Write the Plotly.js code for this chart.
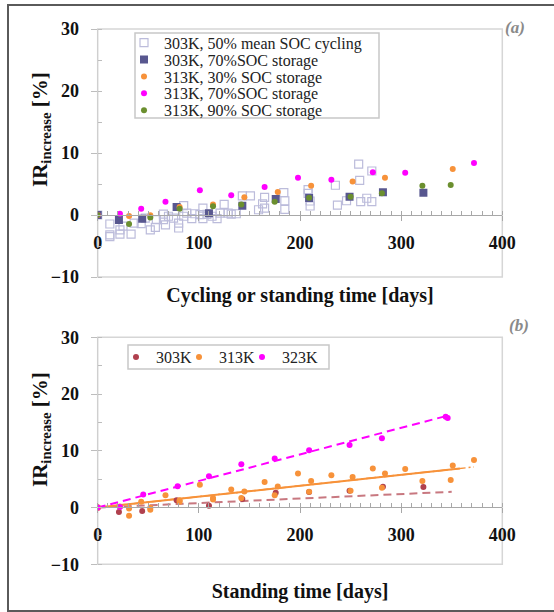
<!DOCTYPE html>
<html><head><meta charset="utf-8">
<script src="https://cdn.plot.ly/plotly-3.0.1.min.js"></script>
<style>html,body{margin:0;padding:0;background:#fff;}#chart{width:554px;height:612px;}</style>
</head><body><div id="chart"></div>
<script>
// ---------- Panel (a) data ----------
const cyc_x = [0,12,12,12,22,22,25,33,36,43,47,52,57,58,65,65,67,70,75,80,80,85,85,88,93,96,101,104,104,108,113,118,121,125,129,132,137,143,151,159,163,165,165,184,185,185,208,208,210,210,235,237,246,258,259,260,266,271,271];
const cyc_y = [0,-1.45,-3.2,-3.5,-2.4,-3.1,-1.8,-3.1,-1.3,-1.4,-0.5,-2.4,-2.0,-0.75,0.15,-0.75,-1.6,-0.2,-0.5,-1.3,-2.1,1.5,-0.2,0.3,-0.6,0.2,0.05,1.1,-0.6,0.1,-0.2,-0.6,0.3,1.7,0.3,0.15,0.2,3.1,3.1,0.85,1.8,2.85,1.1,3.6,2.3,0.9,4.1,3.5,2.26,1.45,4.8,1.6,2.3,8.2,5.6,2.15,2.7,7.1,2.15];
const s303_70_x = [0,21,44,78,110,143,176,209,249,282,322];
const s303_70_y = [0,-0.8,-0.6,1.3,0.3,1.5,2.6,2.75,2.95,3.65,3.6];
const s313_30_x = [0,31,52,81,114,145,178,211,252,284,351];
const s313_30_y = [0,-0.15,-0.05,1.3,1.7,2.85,3.7,4.7,5.4,6.0,7.4];
const s313_70_x = [0,22,43,67,101,132,165,198,231,272,304,372];
const s313_70_y = [0,0.2,1.0,2.15,4.0,3.2,4.5,6.0,5.7,6.9,6.8,8.4];
const s313_90_x = [0,31,52,81,114,142,175,209,250,281,321,349];
const s313_90_y = [0,-1.45,-0.4,1.0,1.4,1.7,2.15,2.8,2.95,3.5,4.7,4.85];
const namesA = ['303K, 50% mean SOC cycling','303K, 70%SOC storage','313K, 30% SOC storage','313K, 70%SOC storage','313K, 90% SOC storage'];

// ---------- Panel (b) data ----------
const b303_x = s303_70_x, b303_y = s303_70_y;
const b313_x = s313_30_x.concat(s313_70_x, s313_90_x);
const b313_y = s313_30_y.concat(s313_70_y, s313_90_y);
const b323_x = [0,22,45,79,110,142,175,209,249,281,344,346];
const b323_y = [0,0.1,2.3,3.75,5.5,7.65,8.65,10.1,11.0,12.2,16.0,15.8];
const fit323_x = [0,346], fit323_y = [0,16.2];
const fit313_x = [0,358], fit313_y = [0,6.9];
const fit313b_x = [0,372], fit313b_y = [0,7.15];
const fit303_x = [0,350], fit303_y = [0,2.78];
const namesB = ['303K','313K','323K'];

const xTicks = [0,100,200,300,400];
const yTicks = [-10,0,10,20,30];
const yTitle = 'IR<sub>increase</sub> [%]';

// ---------- style ----------
const W = 554, H = 612;
const SERIF = 'Liberation Serif, Times New Roman, serif';
const px = v => v / W, py = v => 1 - v / H;
const C = {cyc:'#bcbcdb', blue:'#58578f', orange:'#f7923a', mag:'#ff00ff', green:'#6b8f2f', brown:'#b0404e', brownLine:'#c87880'};

const traces = [
  {x:cyc_x, y:cyc_y, name:namesA[0], type:'scatter', mode:'markers', xaxis:'x', yaxis:'y', legend:'legend',
   marker:{symbol:'square-open', size:8, color:C.cyc, line:{width:1.2, color:C.cyc}}},
  {x:s303_70_x, y:s303_70_y, name:namesA[1], type:'scatter', mode:'markers', xaxis:'x', yaxis:'y', legend:'legend2',
   marker:{symbol:'square', size:8, color:C.blue}},
  {x:s313_30_x, y:s313_30_y, name:namesA[2], type:'scatter', mode:'markers', xaxis:'x', yaxis:'y', legend:'legend3',
   marker:{symbol:'circle', size:6, color:C.orange}},
  {x:s313_70_x, y:s313_70_y, name:namesA[3], type:'scatter', mode:'markers', xaxis:'x', yaxis:'y', legend:'legend4',
   marker:{symbol:'circle', size:6, color:C.mag}},
  {x:s313_90_x, y:s313_90_y, name:namesA[4], type:'scatter', mode:'markers', xaxis:'x', yaxis:'y', legend:'legend5',
   marker:{symbol:'circle', size:6, color:C.green}},
  // panel b
  {x:fit303_x, y:fit303_y, type:'scatter', mode:'lines', xaxis:'x2', yaxis:'y2', showlegend:false, hoverinfo:'skip',
   line:{color:C.brownLine, width:2, dash:'8px,5px'}},
  {x:fit313_x, y:fit313_y, type:'scatter', mode:'lines', xaxis:'x2', yaxis:'y2', showlegend:false, hoverinfo:'skip',
   line:{color:C.orange, width:2}},
  {x:fit313b_x, y:fit313b_y, type:'scatter', mode:'lines', xaxis:'x2', yaxis:'y2', showlegend:false, hoverinfo:'skip',
   line:{color:C.orange, width:1.5, dash:'10px,3px,2px,3px'}},
  {x:fit323_x, y:fit323_y, type:'scatter', mode:'lines', xaxis:'x2', yaxis:'y2', showlegend:false, hoverinfo:'skip',
   line:{color:C.mag, width:2, dash:'8px,5px'}},
  {x:b303_x, y:b303_y, name:namesB[0], type:'scatter', mode:'markers', xaxis:'x2', yaxis:'y2', legend:'legend6',
   marker:{symbol:'circle', size:6, color:C.brown}},
  {x:b313_x, y:b313_y, name:namesB[1], type:'scatter', mode:'markers', xaxis:'x2', yaxis:'y2', legend:'legend7',
   marker:{symbol:'circle', size:6, color:C.orange}},
  {x:b323_x, y:b323_y, name:namesB[2], type:'scatter', mode:'markers', xaxis:'x2', yaxis:'y2', legend:'legend8',
   marker:{symbol:'circle', size:6, color:C.mag}}
];

const xDom = [px(97.7), px(502.3)];
const yDomA = [py(277), py(29)];
const yDomB = [py(564.3), py(337.3)];

function xAxis(pos, title, standoff){
  return {domain:xDom, range:[0,400], tickvals:xTicks, anchor:'free', position:pos,
    showline:true, linecolor:'#a8a8a8', linewidth:1, showgrid:false, zeroline:false,
    ticks:'outside', ticklen:5, tickcolor:'#a8a8a8', ticklabelstandoff:6,
    minor:{dtick:10, ticks:'inside', ticklen:4, tickcolor:'#a8a8a8', showgrid:false},
    tickfont:{family:SERIF, size:18, weight:'bold', color:'#111'},
    title:{text:title, font:{family:SERIF, size:20, weight:'bold', color:'#111'}, standoff:standoff}};
}
function yAxis(dom, anchor){
  return {domain:dom, range:[-10,30], tickvals:yTicks, anchor:anchor,
    showline:true, linecolor:'#cfcfcf', linewidth:1, showgrid:false, zeroline:false,
    ticks:'outside', ticklen:6, tickcolor:'#bdbdbd', ticklabelstandoff:8,
    minor:{dtick:5, ticks:'inside', ticklen:4, tickcolor:'#bdbdbd', showgrid:false},
    tickfont:{family:SERIF, size:18, weight:'bold', color:'#111'}};
}
function leg(xText, yc){
  return {x:px(xText-40), xanchor:'left', y:py(yc), yanchor:'middle', bgcolor:'rgba(0,0,0,0)', borderwidth:0,
    font:{family:SERIF, size:16, color:'#222'}};
}
function yTitleAnn(xc, yc){
  return {text:yTitle, xref:'paper', yref:'paper', x:px(xc), y:py(yc), textangle:-90, showarrow:false,
    xanchor:'center', yanchor:'middle', font:{family:SERIF, size:21, weight:'bold', color:'#111'}};
}

const layout = {
  width:W, height:H, margin:{l:0,r:0,t:0,b:0},
  paper_bgcolor:'#fff', plot_bgcolor:'rgba(0,0,0,0)', showlegend:true,
  xaxis: xAxis(py(215), 'Cycling or standing time [days]', 36),
  yaxis: yAxis(yDomA, 'x'),
  xaxis2: xAxis(py(507.3), 'Standing time [days]', 40),
  yaxis2: yAxis(yDomB, 'x2'),
  legend: leg(164, 42.7), legend2: leg(164, 59.7), legend3: leg(164, 76.7), legend4: leg(164, 93.3), legend5: leg(164, 110.3),
  legend6: leg(156, 357), legend7: leg(219, 357), legend8: leg(282, 357),
  shapes:[
    {type:'rect', xref:'paper', yref:'paper', x0:px(8), x1:1.02, y0:py(611), y1:py(5), line:{color:'#5a5a5a', width:2}, layer:'below'},
    {type:'rect', xref:'x domain', yref:'y domain', x0:0, x1:1, y0:0, y1:1, line:{color:'#d6d6d6', width:1.5}, layer:'below'},
    {type:'rect', xref:'x2 domain', yref:'y2 domain', x0:0, x1:1, y0:0, y1:1, line:{color:'#d6d6d6', width:1.5}, layer:'below'},
    {type:'rect', xref:'paper', yref:'paper', x0:px(135), x1:px(379), y0:py(118), y1:py(33), line:{color:'#c8c8c8', width:1.5}, fillcolor:'#fff', layer:'below'},
    {type:'rect', xref:'paper', yref:'paper', x0:px(128), x1:px(329), y0:py(369), y1:py(345), line:{color:'#c8c8c8', width:1.5}, fillcolor:'#fff', layer:'below'}
  ],
  annotations:[
    yTitleAnn(41, 130),
    yTitleAnn(41, 430),
    {text:'(a)', xref:'paper', yref:'paper', x:px(527), y:py(16), showarrow:false, font:{family:SERIF, size:17, style:'italic', weight:'bold', color:'#8a8a8a'}},
    {text:'(b)', xref:'paper', yref:'paper', x:px(531), y:py(325), showarrow:false, font:{family:SERIF, size:17, style:'italic', weight:'bold', color:'#8a8a8a'}}
  ]
};

Plotly.newPlot('chart', traces, layout, {staticPlot:true, displayModeBar:false});
</script></body></html>
